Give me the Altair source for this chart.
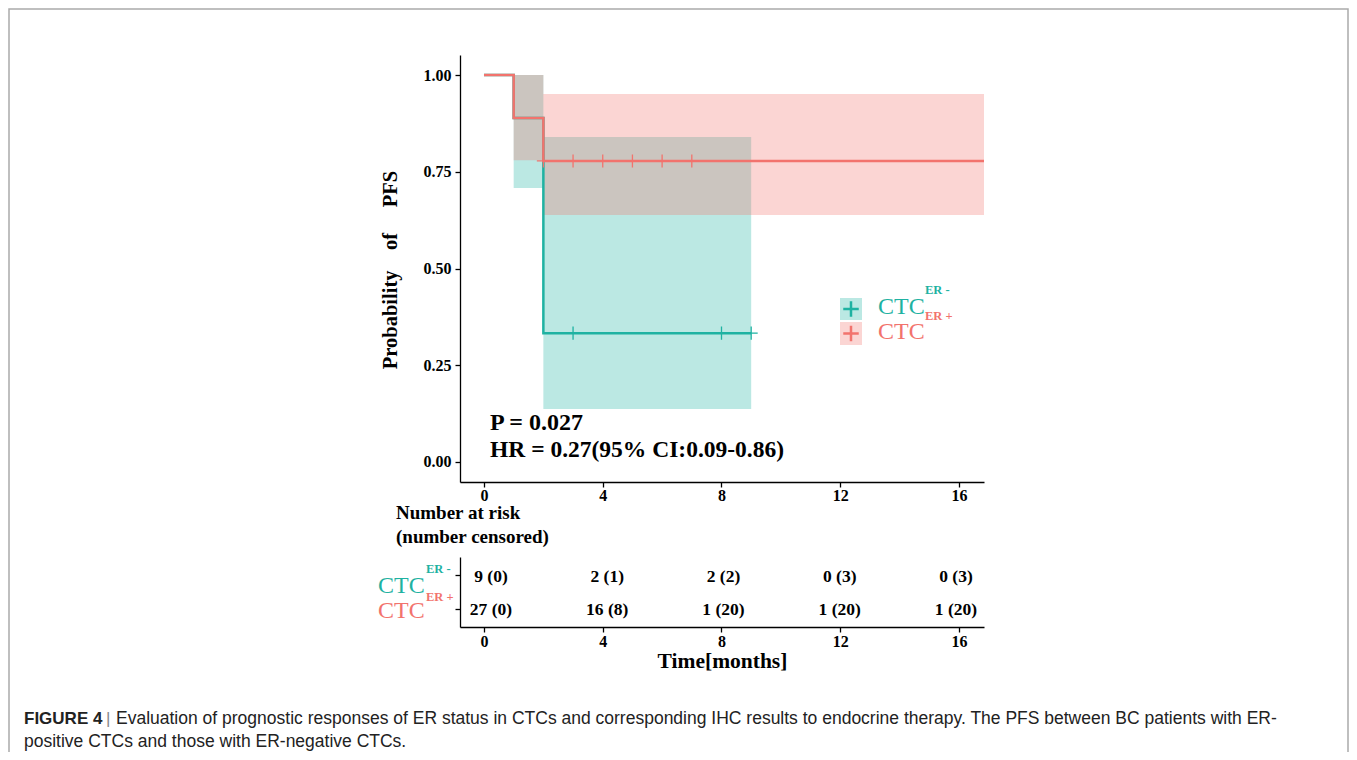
import altair as alt
import pandas as pd

# ---------------- data ----------------
red_time = [0, 1, 2, 16.842]
red_surv = [1.0, 0.889, 0.778, 0.778]
red_lo = [1.0, 0.780, 0.638, 0.638]
red_hi = [1.0, 1.0, 0.951, 0.951]

teal_time = [0, 1, 2, 9]
teal_surv = [1.0, 0.889, 0.333, 0.333]
teal_lo = [1.0, 0.708, 0.137, 0.137]
teal_hi = [1.0, 1.0, 0.840, 0.840]

red_censor_t = [2, 3, 4, 5, 6, 7]
red_censor_s = [0.778] * 6
teal_censor_t = [3, 8, 9]
teal_censor_s = [0.333] * 3

risk_times = [0, 4, 8, 12, 16]
risk_neg = ["9 (0)", "2 (1)", "2 (2)", "0 (3)", "0 (3)"]
risk_pos = ["27 (0)", "16 (8)", "1 (20)", "1 (20)", "1 (20)"]
risk_rows = ["neg", "pos"]

x_ticks = [0, 4, 8, 12, 16]
y_ticks = [0, 0.25, 0.5, 0.75, 1.0]

RED = "#F2736D"
TEAL = "#1FB2A2"
SERIF = "Liberation Serif"
SANS = "Liberation Sans"

PLUS = "M-1,0L1,0M0,-1L0,1"

xs = alt.Scale(domain=[-0.808, 16.842], nice=False, zero=False)
xs_tab = alt.Scale(domain=[-1.067, 16.963], nice=False, zero=False)
ys = alt.Scale(domain=[-0.0517, 1.0517], nice=False, zero=False)
ys_tab = alt.Scale(domain=risk_rows, range=[502, 572], padding=0.56)

main_x_axis = alt.Axis(values=x_ticks, title=None, grid=False, labelFont=SERIF, labelFontWeight="bold",
                       labelFontSize=16, labelColor="black", tickColor="black", tickSize=5,
                       domainColor="black", domainWidth=1.3, tickWidth=1.3, labelPadding=0, orient="bottom")
main_y_axis = alt.Axis(values=y_ticks, format=".2f", title=None, grid=False, labelFont=SERIF,
                       labelFontWeight="bold", labelFontSize=16, labelColor="black", tickColor="black",
                       tickSize=5, domainColor="black", domainWidth=1.3, tickWidth=1.3, labelPadding=4,
                       orient="left")

df_red = pd.DataFrame({"t": red_time, "s": red_surv, "lo": red_lo, "hi": red_hi})
df_teal = pd.DataFrame({"t": teal_time, "s": teal_surv, "lo": teal_lo, "hi": teal_hi})
df_rc = pd.DataFrame({"t": red_censor_t, "s": red_censor_s})
df_tc = pd.DataFrame({"t": teal_censor_t, "s": teal_censor_s})

area_teal = alt.Chart(df_teal).mark_area(interpolate="step-after", color=TEAL, opacity=0.3).encode(
    x=alt.X("t:Q", scale=xs, axis=main_x_axis),
    y=alt.Y("lo:Q", scale=ys, axis=main_y_axis),
    y2="hi:Q")
area_red = alt.Chart(df_red).mark_area(interpolate="step-after", color=RED, opacity=0.3).encode(
    x=alt.X("t:Q", scale=xs), y=alt.Y("lo:Q", scale=ys), y2="hi:Q")
line_teal = alt.Chart(df_teal).mark_line(interpolate="step-after", color=TEAL, strokeWidth=2.5).encode(
    x=alt.X("t:Q", scale=xs), y=alt.Y("s:Q", scale=ys))
line_red = alt.Chart(df_red).mark_line(interpolate="step-after", color=RED, strokeWidth=2.5).encode(
    x=alt.X("t:Q", scale=xs), y=alt.Y("s:Q", scale=ys))
cen_teal = alt.Chart(df_tc).mark_point(shape=PLUS, filled=False, color=TEAL, strokeWidth=1.3, size=170,
                                       opacity=1).encode(
    x=alt.X("t:Q", scale=xs), y=alt.Y("s:Q", scale=ys))
cen_red = alt.Chart(df_rc).mark_point(shape=PLUS, filled=False, color=RED, strokeWidth=1.3, size=170,
                                      opacity=1).encode(
    x=alt.X("t:Q", scale=xs), y=alt.Y("s:Q", scale=ys))

main = alt.layer(area_teal, area_red, line_teal, line_red, cen_teal, cen_red)

# ---------------- risk table ----------------
df_risk = pd.DataFrame({
    "t": risk_times * 2,
    "row": ["neg"] * len(risk_times) + ["pos"] * len(risk_times),
    "lab": risk_neg + risk_pos,
})
risk_x_axis = alt.Axis(values=x_ticks, title="Time[months]", grid=False, labelFont=SERIF,
                       labelFontWeight="bold", labelFontSize=16, labelColor="black", tickColor="black",
                       tickSize=5, domainColor="black", domainWidth=1.3, tickWidth=1.3, labelPadding=1,
                       titleFont=SERIF, titleFontSize=21.5, titleFontWeight="bold", titleColor="black",
                       titlePadding=1, orient="bottom", offset=145)
risk_y_axis = alt.Axis(title=None, labels=False, grid=False, tickColor="black", tickSize=5,
                       domainColor="black", domainWidth=1.3, tickWidth=1.3, orient="left")
risk_axes = alt.Chart(df_risk).mark_point(opacity=0).encode(
    x=alt.X("t:Q", scale=xs, axis=risk_x_axis),
    y=alt.Y("row:N", scale=ys_tab, axis=risk_y_axis))
risk_text = alt.Chart(df_risk).mark_text(font=SERIF, fontWeight="bold", fontSize=17.5, color="black",
                                         align="center", baseline="middle", dy=1.5).encode(
    x=alt.X("t:Q", scale=xs_tab, axis=None),
    y=alt.Y("row:N", scale=ys_tab, axis=None),
    text="lab:N")


# ---------------- decorations ----------------
def txt(s, x, y, size, color="black", weight="normal", font=SERIF, align="left", angle=0):
    return alt.Chart(pd.DataFrame({"v": [s]})).mark_text(
        font=font, fontSize=size, fontWeight=weight, color=color, align=align, baseline="middle",
        angle=angle).encode(text="v:N", x=alt.value(x), y=alt.value(y))


def box(x1, x2, y1, y2, fill=None, stroke=None, opacity=1.0):
    kw = {}
    if fill is not None:
        kw["fill"] = fill
        kw["fillOpacity"] = opacity
    else:
        kw["fillOpacity"] = 0
    if stroke is not None:
        kw["stroke"] = stroke
        kw["strokeWidth"] = 1.5
    return alt.Chart(pd.DataFrame({"v": [0]})).mark_rect(**kw).encode(
        x=alt.value(x1), x2=alt.value(x2), y=alt.value(y1), y2=alt.value(y2))


def plus(x, y, color):
    return alt.Chart(pd.DataFrame({"v": [0]})).mark_point(
        shape=PLUS, filled=False, color=color, strokeWidth=2.5, size=240, opacity=1).encode(
        x=alt.value(x), y=alt.value(y))


NB = "\u00a0"
decor = [
    box(-451, 888, -46, 730, stroke="#AAAAAA"),
    txt("Probability" + NB * 4 + "of" + NB * 5 + "PFS", -69, 215, 20.5, weight="bold", align="center",
        angle=270),
    txt("P = 0.027", 30, 368, 24, weight="bold"),
    txt("HR = 0.27(95% CI:0.09-0.86)", 30, 395, 23.5, weight="bold"),
    box(380, 402, 243, 265, fill=TEAL, opacity=0.3),
    box(380, 402, 267, 290, fill=RED, opacity=0.3),
    plus(391, 254, TEAL),
    plus(391, 278.5, RED),
    txt("CTC", 418, 252, 24, color=TEAL),
    txt("ER -", 465, 235, 12.5, color=TEAL, weight="bold"),
    txt("CTC", 418, 277, 24, color=RED),
    txt("ER +", 465, 261, 12.5, color=RED, weight="bold"),
    txt("Number at risk", -64, 458, 19, weight="bold"),
    txt("(number censored)", -64, 482, 19, weight="bold"),
    txt("CTC", -82, 531, 24, color=TEAL),
    txt("ER -", -34, 514, 12.5, color=TEAL, weight="bold"),
    txt("CTC", -82, 556, 24, color=RED),
    txt("ER +", -34, 542, 12.5, color=RED, weight="bold"),
    txt("FIGURE 4", -436, 664, 17, weight="bold", font=SANS, color="#222222"),
    txt("|", -354, 664, 17, color="#888888", font=SANS),
    txt("Evaluation of prognostic responses of ER status in CTCs and corresponding IHC results to endocrine "
        "therapy. The PFS between BC patients with ER-", -344, 664, 17.5, color="#222222", font=SANS),
    txt("positive CTCs and those with ER-negative CTCs.", -436, 687, 17.5, color="#222222", font=SANS),
]

chart = alt.layer(main, risk_axes, risk_text, *decor).resolve_scale(
    x="independent", y="independent").properties(
    width=524, height=427,
    autosize=alt.AutoSizeParams(type="none"),
    padding={"left": 452, "top": 47, "right": 365, "bottom": 270},
    background="white",
).configure_view(stroke=None)

chart.save("out.html", embed_options={"renderer": "svg", "actions": False})
